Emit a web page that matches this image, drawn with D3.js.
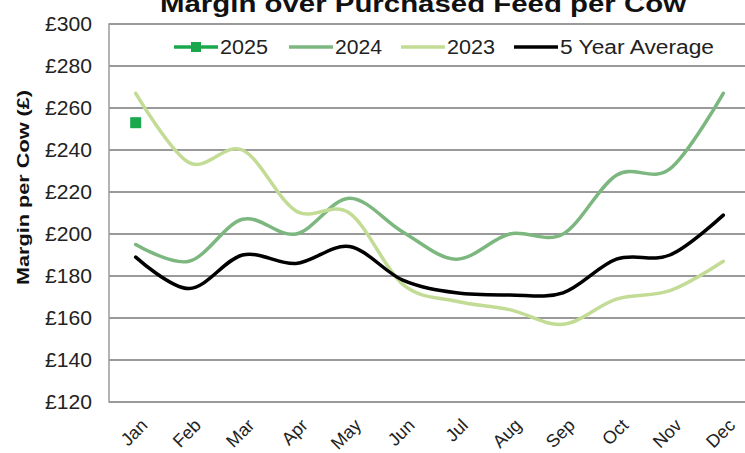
<!DOCTYPE html>
<html>
<head>
<meta charset="utf-8">
<script src="https://cdn.jsdelivr.net/npm/d3@7"></script>
<style>
  body { margin: 0; background: #fff; }
  text { font-family: Arial, "Liberation Sans", sans-serif; }
</style>
</head>
<body>
<svg width="745" height="453"></svg>
<script>
// data
var months = ["Jan", "Feb", "Mar", "Apr", "May", "Jun", "Jul", "Aug", "Sep", "Oct", "Nov", "Dec"];
var y2025 = [253];
var y2024 = [195, 187, 207, 200, 217, 201, 188, 200, 200, 228, 231, 267];
var y2023 = [267, 234, 240, 211, 210, 176, 168, 164, 157, 169, 173, 187];
var avg5 = [189, 174, 190, 186, 194, 178, 172, 171, 172, 188, 190, 209];
var yTicks = [120, 140, 160, 180, 200, 220, 240, 260, 280, 300];

var svg = d3.select("svg"),
    margin = {top: 24, right: -5, bottom: 51, left: 109},
    width = +svg.attr("width") - margin.left - margin.right,
    height = +svg.attr("height") - margin.top - margin.bottom;

var x = d3.scalePoint().domain(months).range([0, width]).padding(0.5),
    y = d3.scaleLinear().domain([120, 300]).range([height, 0]);

var g = svg.append("g")
    .attr("transform", "translate(" + margin.left + "," + margin.top + ")");

//gridlines
g.selectAll(".grid")
    .data(yTicks)
  .enter().append("line")
    .attr("x1", 0).attr("x2", width)
    .attr("y1", function(d) { return y(d); })
    .attr("y2", function(d) { return y(d); })
    .attr("stroke", "#9a9a9a")
    .attr("stroke-width", 1.8);

g.append("rect") //plot frame
    .attr("width", width).attr("height", height)
    .attr("fill", "none").attr("stroke", "#9a9a9a").attr("stroke-width", 1.5);

var yAxis = d3.axisLeft(y).tickValues(yTicks).tickSize(0).tickPadding(17)
    .tickFormat(function(d) { return "£" + d; });
g.append("g").call(yAxis)
    .call(function(a) { a.select(".domain").remove(); })
    .selectAll("text")
    .attr("font-size", 19.5).attr("fill", "#222")
    .attr("textLength", 47).attr("lengthAdjust", "spacingAndGlyphs");

var xAxis = d3.axisBottom(x).tickSize(0);
var xa = g.append("g").attr("transform", "translate(0," + height + ")").call(xAxis);
xa.select(".domain").remove();
xa.selectAll("text")
    .attr("font-size", 18).attr("fill", "#222")
    .attr("text-anchor", "end")
    .attr("dy", "0.35em")
    .attr("transform", "translate(8,20) rotate(-45)")
    .attr("y", 0).attr("x", 0);

var line = d3.line()
    .x(function(d, i) { return x(months[i]); })
    .y(function(d) { return y(d); })
    .curve(d3.curveCatmullRom.alpha(0));

var series = [
  {data: y2024, color: "#7cb77f"},
  {data: y2023, color: "#c3dc95"},
  {data: avg5, color: "#000"}
];
series.forEach(function(s) {
  g.append("path").datum(s.data)
    .attr("fill", "none").attr("stroke", s.color)
    .attr("stroke-width", 3.5).attr("stroke-linecap", "round")
    .attr("d", line);
});

g.selectAll(".pt25")
    .data(y2025)
  .enter().append("rect")
    .attr("x", function(d, i) { return x(months[i]) - 5.5; })
    .attr("y", function(d) { return y(d) - 5.5; })
    .attr("width", 11).attr("height", 11)
    .attr("fill", "#19a84b");

//legend
var legend = [
  {name: "2025", color: "#19a84b", marker: true, x: 174, w: 48},
  {name: "2024", color: "#7cb77f", x: 289, w: 47},
  {name: "2023", color: "#c3dc95", x: 401, w: 48},
  {name: "5 Year Average", color: "#000", x: 514, w: 154}
];
var lg = svg.append("g");
legend.forEach(function(l) {
  lg.append("line")
    .attr("x1", l.x).attr("x2", l.x + 44)
    .attr("y1", 47).attr("y2", 47)
    .attr("stroke", l.color).attr("stroke-width", 3.5);
  if (l.marker) {
    lg.append("rect").attr("x", l.x + 17).attr("y", 42)
      .attr("width", 10).attr("height", 10).attr("fill", l.color);
  }
  lg.append("text").attr("x", l.x + 46).attr("y", 54)
    .attr("font-size", 19.5).attr("fill", "#222")
    .attr("textLength", l.w).attr("lengthAdjust", "spacingAndGlyphs")
    .text(l.name);
});

svg.append("text") //title, cut at top like the source
    .attr("x", 160).attr("y", 12)
    .attr("font-size", 24).attr("font-weight", "bold").attr("fill", "#111")
    .attr("textLength", 526).attr("lengthAdjust", "spacingAndGlyphs")
    .text("Margin over Purchased Feed per Cow");

svg.append("text")
    .attr("transform", "translate(29,285) rotate(-90)")
    .attr("font-size", 17).attr("font-weight", "bold").attr("fill", "#111")
    .attr("textLength", 195).attr("lengthAdjust", "spacingAndGlyphs")
    .text("Margin per Cow (£)");
</script>
</body>
</html>
